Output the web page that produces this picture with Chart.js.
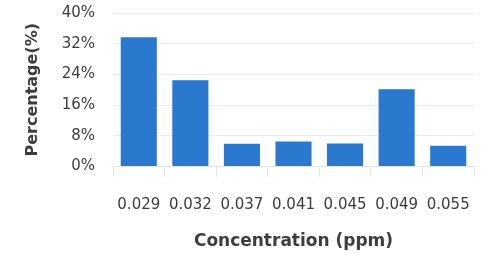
<!DOCTYPE html>
<html><head><meta charset="utf-8">
<script src="https://cdn.jsdelivr.net/npm/chart.js@4/dist/chart.umd.min.js"></script>
<style>html,body{margin:0;padding:0;background:#fff}#wrap{width:482px;height:259px}</style>
</head><body><div id="wrap"><canvas id="c" width="482" height="259"></canvas></div>
<script>
const categories = ["0.029","0.032","0.037","0.041","0.045","0.049","0.055"];
const percentages = [33.7, 22.5, 5.9, 6.5, 6.0, 20.1, 5.4];
const yTicks = [0, 8, 16, 24, 32, 40];
const xTitle = "Concentration (ppm)";
const yTitle = "Percentage(%)";

const textColor = "#3d3d3d";
new Chart(document.getElementById('c'), {
  type: 'bar',
  data: { labels: categories, datasets: [{ data: percentages, backgroundColor: '#2b78cf', barPercentage: 0.7, categoryPercentage: 1.0 }] },
  options: {
    responsive: false, animation: false, devicePixelRatio: 1,
    layout: { padding: { top: 13, right: 8, left: 0, bottom: 0 } },
    plugins: { legend: { display: false }, tooltip: { enabled: false } },
    scales: {
      x: {
        grid: { offset: true, drawOnChartArea: false, tickLength: 10, color: '#e4e4e4' },
        border: { display: true, color: '#e4e4e4' },
        ticks: { color: textColor, padding: 20, font: { family: 'DejaVu Sans', size: 15 }, maxRotation: 0, autoSkip: false },
        title: { display: true, text: xTitle, color: textColor, font: { family: 'DejaVu Sans', size: 17, weight: 'bold' }, padding: { top: 4, bottom: 7 } },
        afterFit: s => { s.height = 92.5; s.paddingLeft = 0; s.paddingRight = 0; }
      },
      y: {
        min: 0, max: 40,
        afterBuildTicks: s => { s.ticks = yTicks.map(v => ({ value: v })); },
        grid: { color: '#ececec', drawTicks: false },
        border: { display: false },
        ticks: { color: textColor, padding: 18, font: { family: 'DejaVu Sans', size: 15 }, callback: v => v + '%' },
        title: { display: true, text: yTitle, color: textColor, font: { family: 'DejaVu Sans', size: 16, weight: 'bold' }, padding: { top: 23, bottom: 0 } },
        afterFit: s => { s.width = 113; s.paddingTop = 0; s.paddingBottom = 0; }
      }
    }
  }
});
</script></body></html>
